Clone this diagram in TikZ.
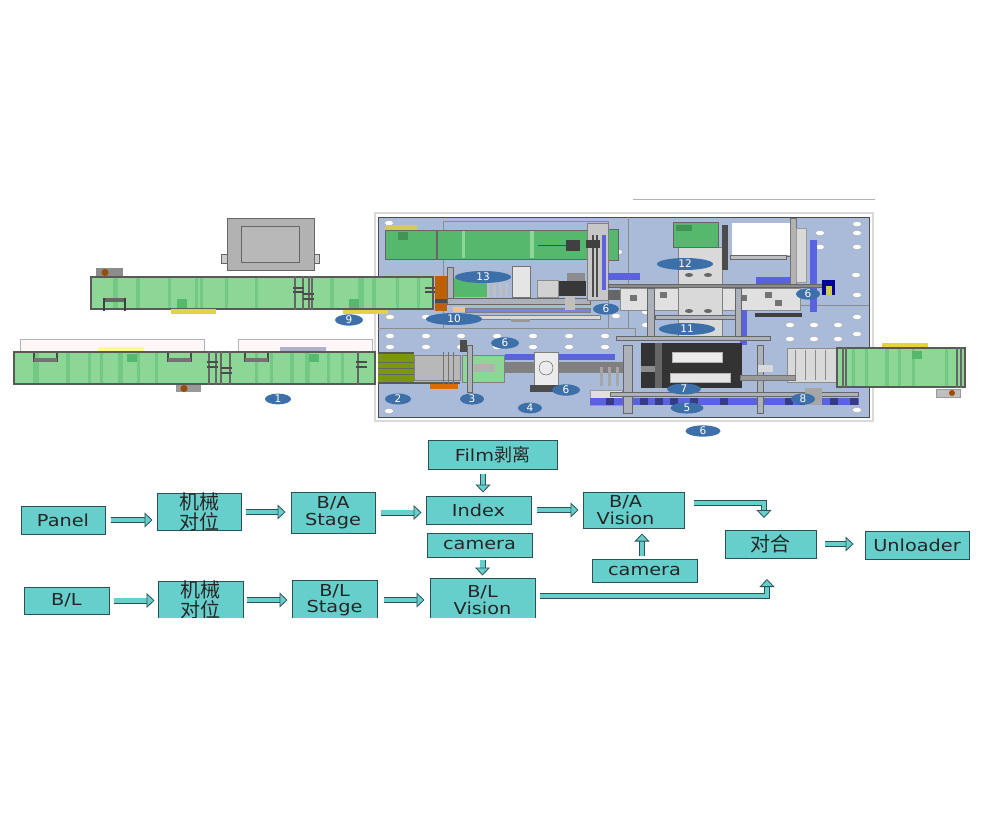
\documentclass[tikz,border=0pt]{standalone}
\usepackage{fontspec}
\setmainfont{DejaVu Sans}
\newfontfamily\boxfont[FakeStretch=1.17]{DejaVu Sans}
\newfontfamily\cjk{Noto Sans CJK SC}
\usepackage{xcolor}
\usepackage{tikz}
\usetikzlibrary{arrows.meta,shapes.geometric}

\definecolor{boxteal}{HTML}{66CFCC}
\definecolor{boxedge}{HTML}{2B5055}
\definecolor{plateblue}{HTML}{A9BBD8}
\definecolor{convgreen}{HTML}{8DD796}
\definecolor{convdark}{HTML}{55B86C}
\definecolor{railblue}{HTML}{5A62E0}
\definecolor{framegray}{HTML}{8A919C}
\definecolor{tagblue}{HTML}{3D6FA8}

\begin{document}
\begin{tikzpicture}[x=1pt,y=-1pt,
  procbox/.style={draw=boxedge,line width=1pt,fill=boxteal,inner sep=0pt,align=center,
    font=\boxfont\fontsize{16.5}{16.5}\selectfont,text=black!85},
  flow/.style={draw=boxedge,line width=0.8pt,double=boxteal,double distance=4.4pt,
    -{Triangle[length=8pt,width=15pt,fill=boxteal,line width=0.8pt]}},
  tag/.style={ellipse,fill=tagblue,inner sep=0pt,text=white,font=\fontsize{10.5}{10.5}\selectfont},
  hole/.style={fill=white,draw=black!35,line width=0.3pt},
  conv/.style={draw=black!65,line width=1.2pt,fill=convgreen},
  stripe/.style={fill=convdark,opacity=0.45},
  post/.style={draw=black!60,line width=0.5pt,fill=framegray!70}]
  \useasboundingbox (0,0) rectangle (1000,837);

  % Base plate
  \draw[black!15,line width=1.5pt] (375,213) rectangle (873,421);
  \draw[black!70,fill=plateblue,line width=0.8pt] (378,217) rectangle (869,417);
  \draw[black!45,line width=0.6pt] (378,328) -- (635,328) (628,217) -- (628,328);
  \draw[black!45,line width=0.6pt] (635,328) -- (635,340) (790,305) -- (869,305);
  \draw[black!45,line width=0.5pt] (443,221) rectangle (608,328);
  \draw[black!30,line width=0.8pt] (633,199) -- (875,199);

  % Holes
  \foreach \hx in {390,426,461,497,533,569,605} {
    \fill[hole] (\hx,336) ellipse (4.5 and 2.5);
    \fill[hole] (\hx,347) ellipse (4.5 and 2.5);
  }
  \foreach \hx in {790,814,838} {
    \fill[hole] (\hx,325) ellipse (4.5 and 2.5);
    \fill[hole] (\hx,339) ellipse (4.5 and 2.5);
  }
  \foreach \hx/\hy in {857/224,857/233,857/247,856/275,857/295,857/317,857/334,820/233,820/247,
    389/411,857/410,389/223,390/317,426/317,616/316,618/252,646/312,646/325} {
    \fill[hole] (\hx,\hy) ellipse (4.5 and 2.5);
  }

  % Upper infeed conveyor
  \fill[black!45] (96,268) rectangle (123,277);
  \fill[orange!60!black] (105,272.5) circle (3.5);
  \draw[conv] (91,277) rectangle (433,309);
  \foreach \sx/\sw in {113/5,136/4,168/3,195/3,200/3,225/3,255/3,330/4,358/6,372/4,396/3,417/3} {
    \fill[stripe] (\sx,278) rectangle ++(\sw,30);
  }
  \fill[convdark] (177,299) rectangle (187,308);
  \fill[convdark] (349,299) rectangle (359,308);
  \fill[yellow!70!gray] (171,309) rectangle (216,314);
  \fill[yellow!70!gray] (343,310) rectangle (388,314);
  \foreach \sx in {295,303,309,312} {
    \draw[black!60,line width=1.4pt] (\sx,276) -- (\sx,310);
  }
  \draw[black!70,line width=1.2pt] (293,288) -- (304,288) (293,292) -- (304,292) (303,294) -- (314,294) (303,299) -- (314,299);
  \draw[black!75,line width=1.2pt] (104,311) -- (104,299) -- (125,299) -- (125,311);
  \fill[black!60] (105,298) rectangle (124,302);
  \draw[black!70,line width=1.2pt] (425,288) -- (436,288) (425,292) -- (436,292);

  % Monitor
  \draw[black!60,fill=black!30] (227,218) rectangle (314,270);
  \draw[black!60,fill=black!28] (241,226) rectangle (299,262);
  \draw[black!60,fill=black!20] (221,254) rectangle (227,263);
  \draw[black!60,fill=black!20] (314,254) rectangle (319,263);

  % Lower infeed conveyor
  \draw[black!30,fill=red!3] (20,339) rectangle (204,352);
  \draw[black!30,fill=red!3] (238,339) rectangle (372,352);
  \fill[yellow!40] (98,347) rectangle (144,352);
  \fill[blue!25!gray!50] (280,347) rectangle (326,352);
  \draw[conv] (14,352) rectangle (375,384);
  \foreach \sx/\sw in {33/6,66/4,88/3,100/3,118/5,137/3,155/3,255/3,270/3,290/4,305/5,327/3,341/3} {
    \fill[stripe] (\sx,353) rectangle ++(\sw,30);
  }
  \fill[convdark] (127,354) rectangle (137,362);
  \fill[convdark] (309,354) rectangle (319,362);
  \foreach \sx in {209,216,221,230,358} {
    \draw[black!60,line width=1.4pt] (\sx,351) -- (\sx,385);
  }
  \draw[black!70,line width=1.2pt] (207,362) -- (218,362) (207,367) -- (218,367) (221,368) -- (232,368) (221,373) -- (232,373) (356,362) -- (367,362) (356,367) -- (367,367);
  \foreach \sx/\ex in {34/57,168/191,245/268} {
    \draw[black!70,line width=1.2pt] (\sx,353) -- (\sx,361) -- (\ex,361) -- (\ex,353);
    \fill[black!55] (\sx,358) rectangle (\ex,362);
  }
  \fill[black!40] (176,385) rectangle (201,392);
  \fill[orange!60!black] (184,388.5) circle (3.5);

  % Top green bed
  \fill[yellow!60!gray] (385,225) rectangle (417,231);
  \draw[black!60,line width=1pt,fill=convdark] (385,230) rectangle (587,259);
  \fill[convdark!80!black] (398,232) rectangle (408,240);
  \draw[black!60,line width=1.4pt] (437,230) -- (437,259);
  \fill[convgreen] (462,231) rectangle (465,258);
  \fill[convgreen] (530,231) rectangle (534,258);
  \fill[black!75] (566,240) rectangle (580,251);
  \draw[black!70] (538,245) -- (566,245);
  \draw[black!60,fill=convdark] (605,229) rectangle (618,260);

  % Middle gantry
  \fill[orange!75!black] (435,276) rectangle (447,311);
  \fill[convdark] (447,278) rectangle (487,297);
  \fill[black!70] (435,299) rectangle (450,303);
  \draw[post] (447,267) rectangle (453,300);
  \draw[black!55,fill=black!10] (512,266) rectangle (530,297);
  \draw[black!45,fill=black!18] (537,280) rectangle (558,297);
  \fill[black!78] (559,281) rectangle (586,296);
  \fill[black!45] (567,273) rectangle (585,281);
  \foreach \sx in {487,493,499,505} {
    \fill[black!25] (\sx,283) rectangle ++(3,14);
  }
  \draw[post] (447,298) rectangle (590,304);
  \draw[black!50,fill=railblue!80] (465,308) rectangle (590,312);
  \fill[orange!50] (453,307) rectangle (465,312);
  \draw[black!50,fill=black!15] (465,315) rectangle (600,319);
  \fill[black!40] (511,319) rectangle (530,322);
  \fill[black!25] (565,296) rectangle (575,310);
  \draw[black!50,fill=black!22] (587,223) rectangle (608,300);
  \foreach \sx in {592,596} {
    \fill[black!70] (\sx,235) rectangle ++(2,62);
  }
  \fill[railblue] (602,235) rectangle (606,290);
  \fill[black!75] (586,240) rectangle (600,248);
  \fill[railblue] (608,273) rectangle (640,280);
  \fill[black!60] (608,290) rectangle (622,300);

  % Lower stage
  \fill[olive!70!green] (378,352) rectangle (414,384);
  \fill[black!65] (378,352) rectangle (414,354);
  \fill[black!65] (378,382) rectangle (460,384);
  \foreach \ry in {362,368,374} {
    \draw[black!60,line width=1pt] (378,\ry) -- (414,\ry);
  }
  \draw[black!50,fill=black!28] (414,355) rectangle (460,380);
  \foreach \sx in {443,448,453} {
    \draw[black!55,line width=0.8pt] (\sx,352) -- (\sx,384);
  }
  \fill[orange!85!black] (430,384) rectangle (458,389);
  \draw[black!50,fill=convgreen] (462,355) rectangle (504,382);
  \fill[black!30] (472,364) rectangle (495,372);
  \draw[post] (467,345) rectangle (472,392);
  \fill[black!70] (460,340) rectangle (467,352);
  \fill[railblue] (505,354) rectangle (615,360);
  \fill[black!50] (505,362) rectangle (625,373);
  \draw[black!50,fill=black!8] (534,352) rectangle (558,385);
  \draw[black!70] (546,368) circle (7);
  \fill[black!70] (530,385) rectangle (558,392);
  \foreach \sx in {600,608,616} {
    \fill[black!35] (\sx,367) rectangle ++(3,19);
  }
  \draw[black!40,fill=black!12] (590,390) rectangle (622,405);
  \fill[railblue] (590,398) rectangle (859,405);
  \foreach \sx in {606,640,655,670,690,720,785,800,830,850} {
    \fill[railblue!60!black] (\sx,398) rectangle ++(8,7);
  }

  % Head and green block
  \draw[black!45,fill=black!12] (620,288) rectangle (800,310);
  \draw[black!50,fill=black!15] (678,247) rectangle (722,338);
  \draw[black!60,fill=convdark] (673,222) rectangle (718,247);
  \fill[convdark!80!black] (676,225) rectangle (692,231);
  \fill[white] (732,223) rectangle (790,255);
  \draw[black!60] (732,256) -- (790,256);
  \draw[black!60,fill=black!25] (730,255) rectangle (786,259);
  \fill[black!70] (722,225) rectangle (728,270);
  \foreach \hx/\hy in {689/275,708/275,689/311,708/311} {
    \fill[black!60] (\hx,\hy) ellipse (4 and 2);
  }
  \foreach \sx/\sy in {630/295,660/292,740/295,765/292,775/300} {
    \fill[black!55] (\sx,\sy) rectangle ++(7,6);
  }
  \draw[black!55,fill=black!30] (790,218) rectangle (796,285);
  \draw[black!40,fill=black!15] (796,228) rectangle (806,282);
  \fill[railblue] (810,240) rectangle (817,312);
  \fill[railblue] (756,277) rectangle (790,284);
  \draw[black!60,fill=black!45] (608,284) rectangle (825,287);
  \fill[blue!60!black] (822,280) rectangle (835,295);
  \fill[yellow!60!gray] (826,286) rectangle (832,295);
  \fill[black!75] (755,313) rectangle (802,317);
  \draw[post] (655,315) rectangle (737,319);
  \fill[railblue] (740,310) rectangle (747,345);

  % Frame and black machine
  \draw[post] (616,336) rectangle (770,340);
  \draw[post] (647,288) rectangle (654,336);
  \draw[post] (735,288) rectangle (741,336);
  \fill[black!80] (641,343) rectangle (742,388);
  \draw[black!30,fill=black!8] (672,352) rectangle (722,362);
  \draw[black!30,fill=black!10] (670,373) rectangle (730,382);
  \fill[black!45] (641,366) rectangle (660,372);
  \fill[black!60] (655,343) rectangle (662,388);
  \draw[post] (623,345) rectangle (632,413);
  \draw[post] (757,345) rectangle (763,413);
  \draw[post] (610,392) rectangle (858,396);

  % Right side
  \draw[black!45,fill=black!15] (787,348) rectangle (837,382);
  \foreach \sx in {795,805,815,825} {
    \draw[black!45] (\sx,350) -- (\sx,380);
  }
  \draw[black!55,fill=black!40] (740,375) rectangle (795,380);
  \fill[black!15] (758,365) rectangle (773,372);
  \fill[black!35] (805,388) rectangle (822,405);
  \fill[yellow!70!gray] (882,343) rectangle (928,348);
  \draw[conv] (837,348) rectangle (965,387);
  \foreach \sx/\sw in {852/3,865/3,885/4,898/3,912/3,945/3} {
    \fill[stripe] (\sx,349) rectangle ++(\sw,37);
  }
  \fill[convdark] (912,351) rectangle (922,359);
  \foreach \sx in {843,846,957,961} {
    \draw[black!60,line width=1.2pt] (\sx,347) -- (\sx,388);
  }
  \draw[black!40,fill=black!25] (936,389) rectangle (960,397);
  \fill[orange!60!black] (952,393) circle (3);

  % Number tags
  \node[tag,minimum width=26pt,minimum height=10pt] (tag1) at (278,399) {1};
  \node[tag,minimum width=26pt,minimum height=10pt] (tag2) at (398,399) {2};
  \node[tag,minimum width=24pt,minimum height=10pt] (tag3) at (472,399) {3};
  \node[tag,minimum width=24pt,minimum height=10pt] (tag4) at (530,408) {4};
  \node[tag,minimum width=33pt,minimum height=8pt]  (tag5) at (687,408) {5};
  \node[tag,minimum width=28pt,minimum height=10pt] (tag6a) at (505,343) {6};
  \node[tag,minimum width=28pt,minimum height=10pt] (tag6b) at (566,390) {6};
  \node[tag,minimum width=26pt,minimum height=10pt] (tag6c) at (606,309) {6};
  \node[tag,minimum width=24pt,minimum height=9pt]  (tag6d) at (808,294) {6};
  \node[tag,minimum width=35pt,minimum height=10pt] (tag6e) at (703,431) {6};
  \node[tag,minimum width=34pt,minimum height=10pt] (tag7) at (684,389) {7};
  \node[tag,minimum width=24pt,minimum height=10pt] (tag8) at (803,399) {8};
  \node[tag,minimum width=28pt,minimum height=10pt] (tag9) at (349,320) {9};
  \node[tag,minimum width=56pt,minimum height=12pt] (tag10) at (454,319) {10};
  \node[tag,minimum width=56pt,minimum height=12pt] (tag11) at (687,329) {11};
  \node[tag,minimum width=56pt,minimum height=12pt] (tag12) at (685,264) {12};
  \node[tag,minimum width=56pt,minimum height=12pt] (tag13) at (483,277) {13};

  % Flow boxes
  \node[procbox,minimum width=84pt,minimum height=28pt] (panel) at (63,520) {Panel};
  \node[procbox,minimum width=84pt,minimum height=36pt] (alignA) at (199,512) {{\cjk\fontsize{20}{17}\selectfont 机械}\\{\cjk\fontsize{20}{17}\selectfont 对位}};
  \node[procbox,minimum width=84pt,minimum height=41pt] (stageA) at (333,512.5) {B/A\\Stage};
  \node[procbox,minimum width=105pt,minimum height=28pt] (index) at (478.5,510) {Index};
  \node[procbox,minimum width=129pt,minimum height=29pt] (film) at (492.5,454.5) {Film{\cjk\fontsize{18}{17}\selectfont 剥离}};
  \node[procbox,minimum width=105pt,minimum height=24pt] (camA) at (479.5,545) {camera};
  \node[procbox,minimum width=101pt,minimum height=36pt] (visionA) at (633.5,510) {B/A\hspace*{16pt}\\Vision\hspace*{16pt}};
  \node[procbox,minimum width=105pt,minimum height=23pt] (camB) at (644.5,570.5) {camera};
  \node[procbox,minimum width=91pt,minimum height=28pt] (merge) at (770.5,544) {\cjk\fontsize{20}{17}\selectfont 对合};
  \node[procbox,minimum width=104pt,minimum height=28pt] (unload) at (917,545) {Unloader};
  \node[procbox,minimum width=85pt,minimum height=27pt] (bl) at (66.5,600.5) {B/L};
  \node[procbox,minimum width=85pt,minimum height=34pt] (alignB) at (200.5,600) {{\cjk\fontsize{20}{17}\selectfont 机械}\\{\cjk\fontsize{20}{17}\selectfont 对位}};
  \node[procbox,minimum width=85pt,minimum height=40pt] (stageB) at (334.5,600) {B/L\\Stage};
  \node[procbox,minimum width=105pt,minimum height=44pt] (visionB) at (482.5,600) {B/L\\Vision};

  % Cut at the lower edge
  \fill[white] (0,617.5) rectangle (1000,640);

  % Connectors
  \coordinate (mergeup) at (764,518);
  \coordinate (mergedown) at (767,579);
  \draw[flow,shorten <=5pt,shorten >=4pt] (panel) -- (panel -| alignA.west);
  \draw[flow,shorten <=4pt,shorten >=5pt] (alignA) -- (alignA -| stageA.west);
  \draw[flow,shorten <=5pt,shorten >=4pt] (stageA) -- (stageA -| index.west);
  \draw[flow,shorten <=5pt,shorten >=4pt] (index) -- (index -| visionA.west);
  \draw[flow,shorten <=4pt,shorten >=3pt] (film.south -| 483,0) -- (index.north -| 483,0);
  \draw[flow,shorten <=2pt,shorten >=2pt] (visionB |- camA.south) -- (visionB.north);
  \draw[flow,shorten <=3pt,shorten >=5pt] (camB.north -| 642,0) -- (visionA.south -| 642,0);
  \draw[flow,shorten <=9pt] ([yshift=7pt]visionA.east) -| (mergeup);
  \draw[flow,shorten <=4pt] ([yshift=4pt]visionB.east) -| (mergedown);
  \draw[flow,shorten <=8pt,shorten >=11pt] (merge) -- (merge -| unload.west);
  \draw[flow,shorten <=4pt,shorten >=3pt] (bl) -- (bl -| alignB.west);
  \draw[flow,shorten <=3pt,shorten >=4pt] (alignB) -- (alignB -| stageB.west);
  \draw[flow,shorten <=6pt,shorten >=5pt] (stageB) -- (stageB -| visionB.west);
\end{tikzpicture}
\end{document}
